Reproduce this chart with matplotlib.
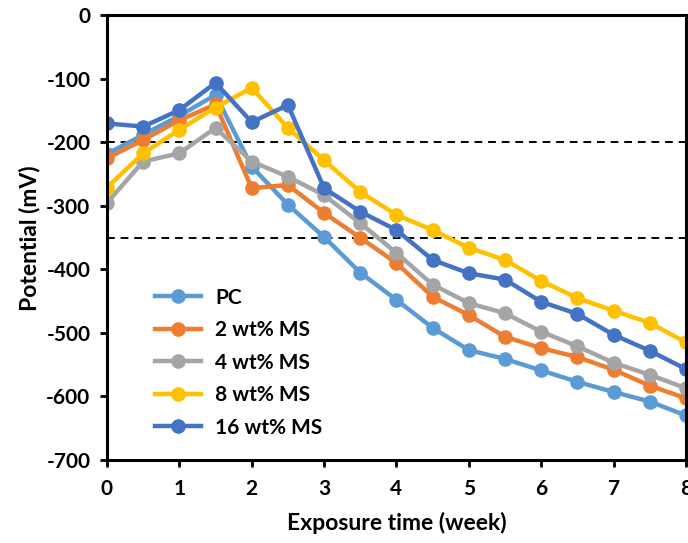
import matplotlib.pyplot as plt
import numpy as np

plt.rcParams['font.family'] = ['Lato', 'DejaVu Sans']
plt.rcParams['font.weight'] = 'bold'
plt.rcParams['axes.unicode_minus'] = False

weeks = np.arange(0, 8.5, 0.5)

pc = [-218, -188, -158, -125, -238, -298, -349, -405, -448, -492, -527, -541, -559, -577, -593, -608, -630]
ms2 = [-225, -196, -165, -140, -272, -267, -311, -350, -390, -443, -472, -506, -524, -538, -558, -583, -603]
ms4 = [-295, -230, -217, -177, -230, -254, -283, -327, -374, -424, -453, -469, -498, -521, -547, -566, -587]
ms8 = [-271, -217, -180, -145, -114, -177, -228, -278, -314, -338, -366, -385, -418, -445, -465, -484, -515]
ms16 = [-170, -175, -149, -106, -168, -141, -272, -309, -338, -385, -406, -416, -451, -470, -503, -528, -557]

names = ['PC', '2 wt% MS', '4 wt% MS', '8 wt% MS', '16 wt% MS']
colors = ['#5B9BD5', '#ED7D31', '#A5A5A5', '#FFC000', '#4472C4']
limits = [-200, -350]

fig = plt.figure(figsize=(6.88, 5.43), dpi=100)
ax = fig.add_axes([0.1555, 0.153, 0.8415, 0.8185])

for y, name, c in zip([pc, ms2, ms4, ms8, ms16], names, colors):
    ax.plot(weeks, y, '-o', color=c, lw=3.2, ms=9.5, label=name)

for lim in limits:
    ax.axhline(lim, color='black', ls=(0, (4, 3)), lw=1.4, zorder=1)

ax.set_xlim(0, 8)
ax.set_ylim(-700, 0)
ax.set_xticks(range(0, 9))
ax.set_yticks(range(-700, 1, 100))
ax.tick_params(labelsize=15, width=2, length=5, direction='out')
ax.tick_params(axis='x', pad=9)
ax.tick_params(axis='y', pad=7)
for s in ax.spines.values():
    s.set_linewidth(2.2)
ax.set_xlabel('Exposure time (week)', fontsize=16.5, fontweight='bold', labelpad=9)
ax.set_ylabel('Potential (mV)', fontsize=16.5, fontweight='bold', labelpad=4)

ax.legend(loc='upper left', bbox_to_anchor=(0.05, 0.43), frameon=False,
          fontsize=15, handlelength=2.2, labelspacing=0.6, handletextpad=0.7)

fig.savefig('out.png')
